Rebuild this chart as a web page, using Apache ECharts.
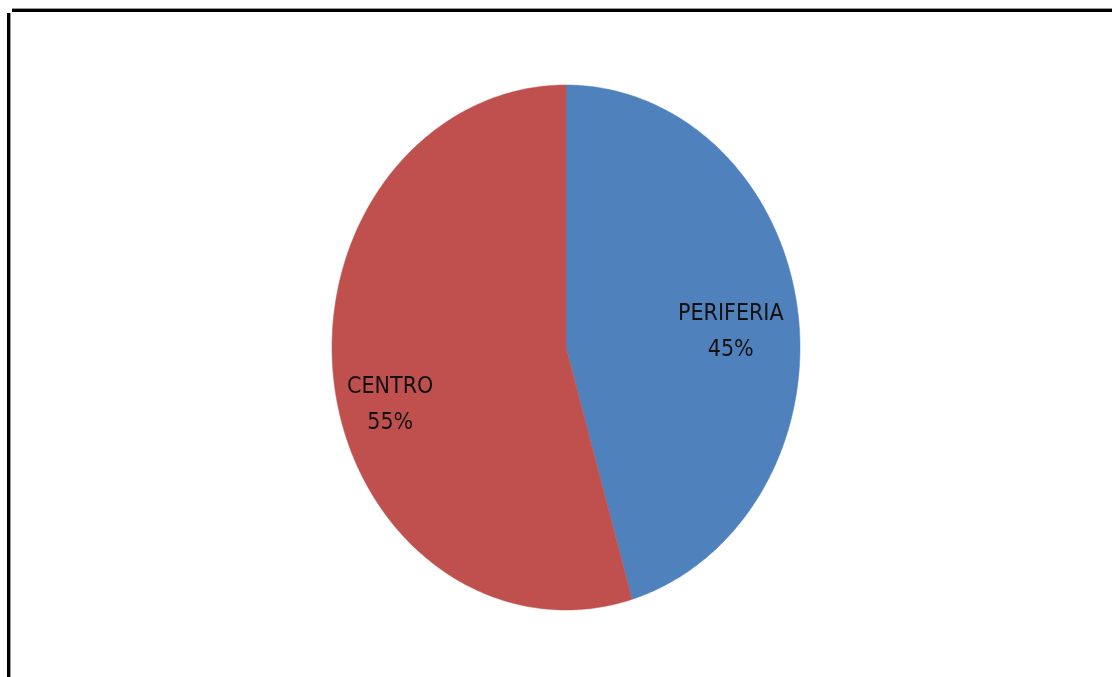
<!DOCTYPE html>
<html>
<head>
<meta charset="utf-8">
<script src="https://cdn.jsdelivr.net/npm/echarts@6/dist/echarts.min.js"></script>
<style>
html,body{margin:0;padding:0;background:#fff;}
#chart{width:1112px;height:677px;}
</style>
</head>
<body>
<div id="chart"></div>
<script>
// Data (slice angle in the picture is ~45.45% / 54.55%, i.e. 5 vs 6)
const categories = ['PERIFERIA', 'CENTRO'];
const values = [5, 6];
const colors = ['#4F81BD', '#C0504D'];

// Layout (ellipse pie, stretched vertically like the reference)
const CX = 566, CY = 347.5, RX = 234, RY = 262.5;
const LABEL_R = 0.72;
const labelNudge = [[-2, 11], [-9, 31]];

const total = values.reduce((a, b) => a + b, 0);

const chart = echarts.init(document.getElementById('chart'), null, {renderer: 'canvas'});

function renderItem(params, api) {
  const i = params.dataIndex;
  let before = 0;
  for (let k = 0; k < i; k++) before += values[k];
  const v = api.value(0);
  const a0 = before / total * Math.PI * 2;
  const a1 = (before + v) / total * Math.PI * 2;
  const steps = 240;
  const pts = [[CX, CY]];
  for (let s = 0; s <= steps; s++) {
    const a = a0 + (a1 - a0) * s / steps;
    pts.push([CX + RX * Math.sin(a), CY - RY * Math.cos(a)]);
  }
  const am = (a0 + a1) / 2;
  const lx = CX + RX * LABEL_R * Math.sin(am) + labelNudge[i][0];
  const ly = CY - RY * LABEL_R * Math.cos(am) + labelNudge[i][1];
  const pct = Math.round(v / total * 100);
  return {
    type: 'group',
    children: [
      {
        type: 'polygon',
        shape: {points: pts},
        style: {fill: colors[i], stroke: colors[i], lineWidth: 0.5}
      },
      {
        type: 'text',
        style: {
          text: categories[i] + '\n' + pct + '%',
          x: lx, y: ly,
          align: 'center', verticalAlign: 'middle',
          fontFamily: "'Liberation Sans Narrow', 'DejaVu Sans Condensed', sans-serif",
          fontSize: 23, lineHeight: 36,
          fill: '#111'
        }
      }
    ]
  };
}

chart.setOption({
  backgroundColor: '#ffffff',
  animation: false,
  graphic: [
    {type: 'rect', shape: {x: 12, y: 8, width: 1100, height: 1}, style: {fill: '#999'}},
    {type: 'rect', shape: {x: 12, y: 9, width: 1100, height: 3}, style: {fill: '#000'}},
    {type: 'rect', shape: {x: 7, y: 13, width: 3, height: 664}, style: {fill: '#000'}},
    {type: 'rect', shape: {x: 10, y: 13, width: 1, height: 664}, style: {fill: '#999'}}
  ],
  series: [{
    type: 'custom',
    coordinateSystem: 'none',
    renderItem: renderItem,
    data: values.map((v, i) => ({name: categories[i], value: [v]}))
  }]
});
</script>
</body>
</html>
